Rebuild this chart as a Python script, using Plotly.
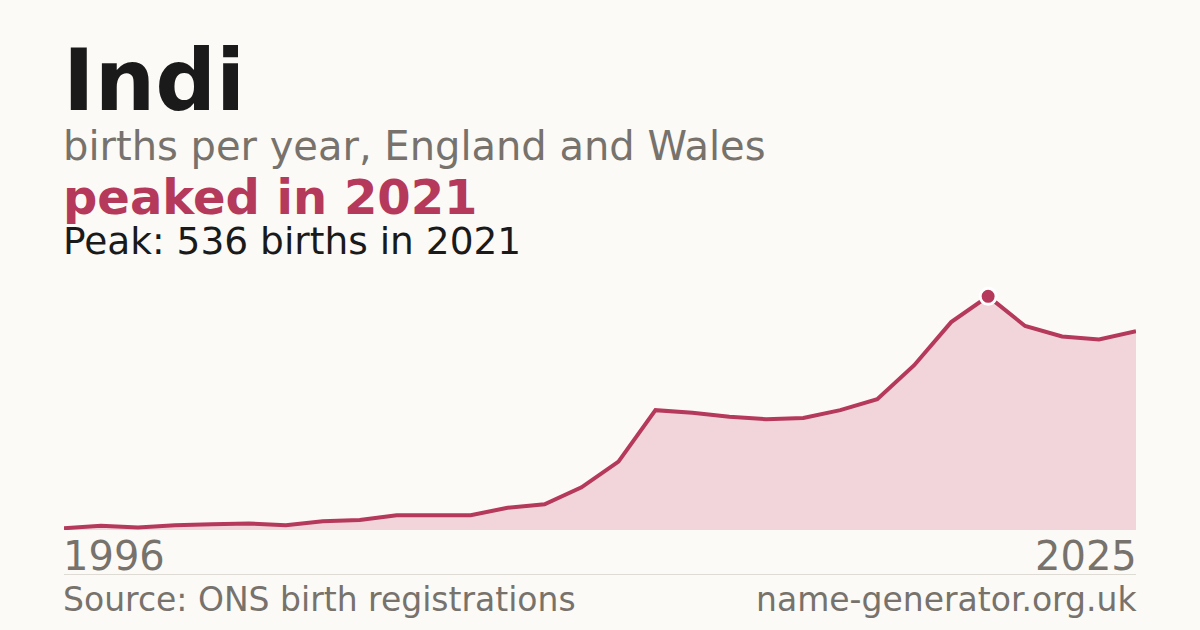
import plotly.graph_objects as go

years = list(range(1996, 2026))
births = [4, 10, 6, 11, 13, 15, 11, 20, 23, 34, 34, 34, 51, 59, 98, 157,
          275, 269, 260, 254, 257, 275, 300, 378, 477, 536, 468, 444, 437, 456]

name = "Indi"
subtitle = "births per year, England and Wales"
headline = "peaked in 2021"
source = "Source: ONS birth registrations"
site = "name-generator.org.uk"

peak = max(births)
peak_year = years[births.index(peak)]

LINE = "#b5395a"
FILL = "#f2d5db"
GREY = "#77726c"
INK = "#1a1a1a"
BG = "#fbfaf6"
FONT = "DejaVu Sans"

W, H = 1200, 630
L, R, T, B = 64, 64, 273, 100


def py(y):
    # pixel row -> paper y
    return (H - B - y) / (H - T - B)


def px(x):
    return (x - L) / (W - L - R)


fig = go.Figure()
fig.add_trace(go.Scatter(
    x=years, y=births, mode="lines", fill="tozeroy",
    fillcolor=FILL, line=dict(color=LINE, width=4),
    hoverinfo="skip",
))
fig.add_trace(go.Scatter(
    x=[peak_year], y=[peak], mode="markers",
    marker=dict(color=LINE, size=16, line=dict(color="white", width=3)),
    hoverinfo="skip",
))

texts = [
    (name, 80, 85, INK, True),
    (subtitle, 146, 40, GREY, False),
    (headline, 197, 48, LINE, True),
    (f"Peak: {peak} births in {peak_year}", 241, 37.5, INK, False),
    (source, 599, 33, GREY, False),
]
ann = []
for txt, y, size, col, bold in texts:
    ann.append(dict(
        text=f"<b>{txt}</b>" if bold else txt,
        x=px(L - 2), y=py(y), xref="paper", yref="paper",
        xanchor="left", yanchor="middle", showarrow=False, borderpad=0,
        font=dict(family=FONT, size=size, color=col),
    ))
ann.append(dict(
    text=site, x=px(W - R + 2), y=py(599), xref="paper", yref="paper",
    xanchor="right", yanchor="middle", showarrow=False, borderpad=0,
    font=dict(family=FONT, size=33, color=GREY),
))
ann.append(dict(
    text=str(years[0]), x=px(L - 2), y=py(556), xref="paper", yref="paper",
    xanchor="left", yanchor="middle", showarrow=False, borderpad=0,
    font=dict(family=FONT, size=40, color=GREY),
))
ann.append(dict(
    text=str(years[-1]), x=px(W - R + 2), y=py(556), xref="paper", yref="paper",
    xanchor="right", yanchor="middle", showarrow=False, borderpad=0,
    font=dict(family=FONT, size=40, color=GREY),
))

fig.update_layout(
    width=W, height=H,
    margin=dict(l=L, r=R, t=T, b=B),
    paper_bgcolor=BG, plot_bgcolor=BG,
    showlegend=False,
    annotations=ann,
    shapes=[dict(type="line", xref="paper", yref="paper",
                 x0=0, x1=1, y0=py(574.5), y1=py(574.5),
                 line=dict(color="#dedbd4", width=1))],
    xaxis=dict(range=[years[0], years[-1]], visible=False, fixedrange=True),
    yaxis=dict(range=[0, peak * 1.1], visible=False, fixedrange=True),
)

fig.write_html(
    "out.html",
    config={"displayModeBar": False},
    post_script=f"document.body.style.margin='0';document.body.style.background='{BG}';",
)
